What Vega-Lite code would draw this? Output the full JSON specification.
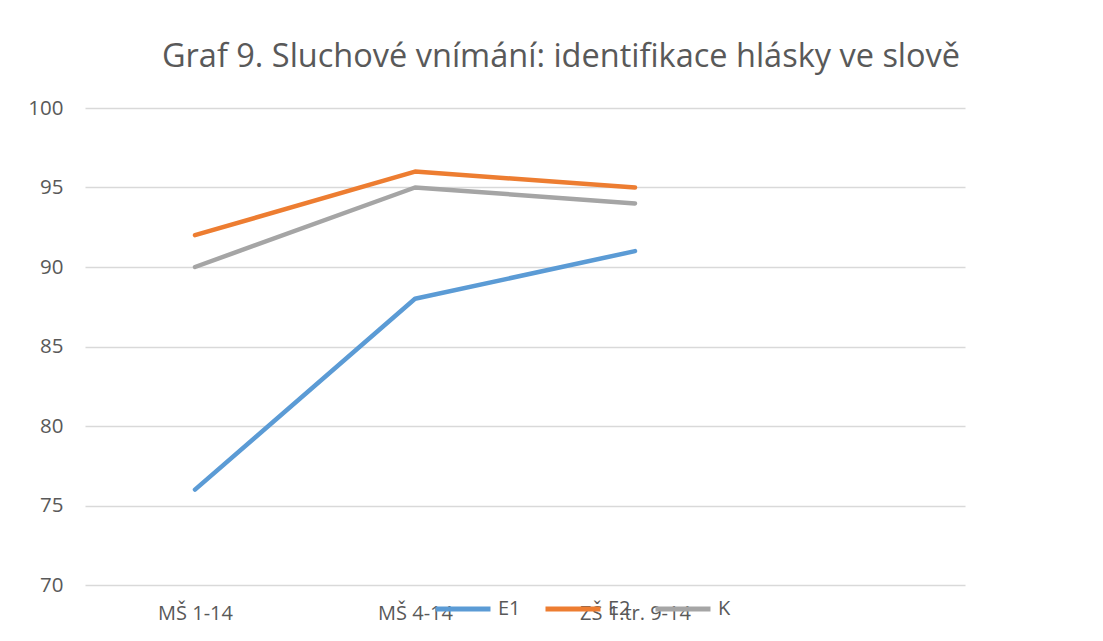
{
  "$schema": "https://vega.github.io/schema/vega-lite/v6.json",
  "autosize": "none",
  "width": 880,
  "height": 477,
  "padding": {"left": 85, "top": 108, "right": 138, "bottom": 56},
  "background": "white",
  "title": {
    "text": "Graf 9. Sluchové vnímání: identifikace hlásky ve slově",
    "font": "Open Sans",
    "fontSize": 32.5,
    "fontWeight": "normal",
    "color": "#595959",
    "anchor": "middle",
    "dx": 36,
    "offset": 25
  },
  "config": {
    "view": {"stroke": null},
    "font": "Open Sans"
  },
  "data": {
    "values": [
      {"kat": "MŠ 1-14", "serie": "E1", "hodnota": 76},
      {"kat": "MŠ 4-14", "serie": "E1", "hodnota": 88},
      {"kat": "ZŠ 1.tr. 9-14", "serie": "E1", "hodnota": 91},
      {"kat": "MŠ 1-14", "serie": "E2", "hodnota": 92},
      {"kat": "MŠ 4-14", "serie": "E2", "hodnota": 96},
      {"kat": "ZŠ 1.tr. 9-14", "serie": "E2", "hodnota": 95},
      {"kat": "MŠ 1-14", "serie": "K", "hodnota": 90},
      {"kat": "MŠ 4-14", "serie": "K", "hodnota": 95},
      {"kat": "ZŠ 1.tr. 9-14", "serie": "K", "hodnota": 94}
    ]
  },
  "mark": {"type": "line", "strokeWidth": 4.5, "strokeCap": "round", "strokeJoin": "round"},
  "encoding": {
    "x": {
      "field": "kat",
      "type": "ordinal",
      "scale": {"type": "point", "domain": ["MŠ 1-14", "MŠ 4-14", "ZŠ 1.tr. 9-14", " "], "padding": 0.5},
      "axis": {
        "title": null,
        "domain": false,
        "ticks": false,
        "grid": false,
        "labelAngle": 0,
        "labelFont": "Open Sans",
        "labelFontSize": 20,
        "labelColor": "#595959",
        "labelPadding": 18
      }
    },
    "y": {
      "field": "hodnota",
      "type": "quantitative",
      "scale": {"domain": [70, 100], "nice": false, "zero": false},
      "axis": {
        "title": null,
        "values": [70, 75, 80, 85, 90, 95, 100],
        "domain": false,
        "ticks": false,
        "grid": true,
        "gridColor": "#D9D9D9",
        "gridWidth": 1.5,
        "labelFont": "Open Sans",
        "labelFontSize": 20.5,
        "labelColor": "#595959",
        "labelPadding": 22
      }
    },
    "color": {
      "field": "serie",
      "type": "nominal",
      "scale": {"domain": ["E1", "E2", "K"], "range": ["#5B9BD5", "#ED7D31", "#A5A5A5"]},
      "legend": {
        "title": null,
        "orient": "none",
        "direction": "horizontal",
        "legendX": 348,
        "legendY": 471,
        "symbolType": "stroke",
        "symbolSize": 3025,
        "symbolStrokeWidth": 5,
        "labelFont": "Open Sans",
        "labelFontSize": 20,
        "labelColor": "#595959",
        "labelOffset": 5,
        "columnPadding": 14
      }
    }
  }
}
